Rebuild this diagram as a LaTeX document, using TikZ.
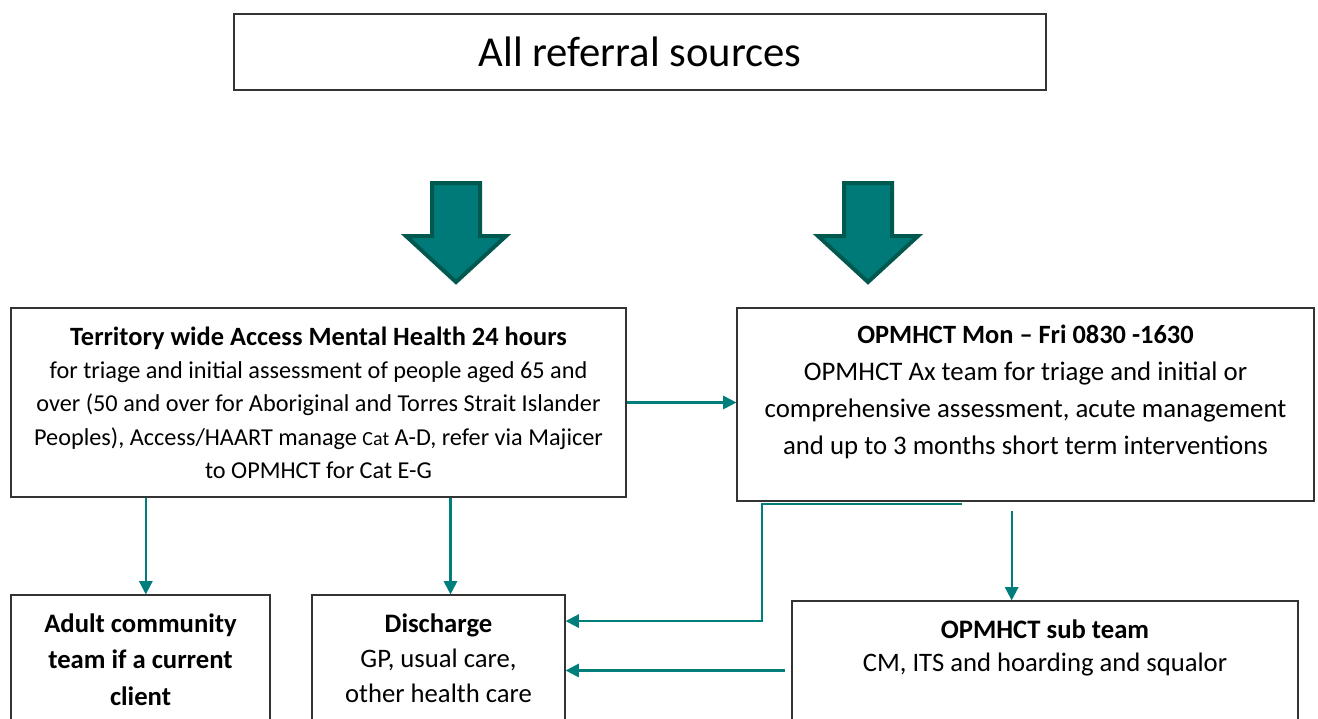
\documentclass[tikz,border=0pt]{standalone}
\usepackage{fontspec}
\setmainfont{Carlito}
\usepackage{xcolor}
\usepackage{tikz}
\usetikzlibrary{positioning,fit,arrows.meta}
\definecolor{flowteal}{HTML}{007E7C}
\definecolor{arrowfill}{HTML}{007A78}
\definecolor{arrowedge}{HTML}{00584F}

\begin{document}
\begin{tikzpicture}[x=0.75pt,y=-0.75pt,
  box/.style={draw=black!80, line width=0.9pt, inner sep=0pt},
  conn/.style={draw=flowteal, line width=1.6pt, -{Triangle[length=10pt,width=10pt]}},
  bigarrow/.style={fill=arrowfill, draw=arrowedge, line width=3pt, line join=miter},
  txt/.style={align=center, inner sep=0pt}]
\clip (0,0) rectangle (1318,718);
\fill[white] (0,0) rectangle (1318,718);
\node[box, fit={(234,14) (1046,90)}] (src) {};
\node[txt, font=\fontsize{32}{36}\selectfont] (srctxt) at (src.center) {All referral sources};
\draw[bigarrow] (432,183) -- (480,183) -- (480,236) -- (506,236) -- (456,282) -- (406,236) -- (432,236) -- cycle;
\draw[bigarrow] (844,183) -- (892,183) -- (892,236) -- (918,236) -- (868,282) -- (818,236) -- (844,236) -- cycle;
\node[box, fit={(11,308) (626,497)}] (acc) {};
\node[txt, font=\fontsize{18.2}{25}\selectfont] (acctxt) at (acc.center) {\textbf{\fontsize{19.8}{25}\selectfont Territory wide Access Mental Health 24 hours}\\
for triage and initial assessment of people aged 65 and\\
over (50 and over for Aboriginal and Torres Strait Islander\\
Peoples), Access/HAART manage {\fontsize{15}{25}\selectfont Cat} A-D, refer via Majicer\\
to OPMHCT for Cat E-G};
\node[box, fit={(737,308) (1314,501)}] (opm) {};
\node[txt, font=\fontsize{20.1}{27.75}\selectfont, anchor=north] (opmtxt) at ([yshift=-13pt]opm.north) {\textbf{\fontsize{19.8}{27.75}\selectfont OPMHCT Mon -- Fri 0830 -1630}\\
OPMHCT Ax team for triage and initial or\\
comprehensive assessment, acute management\\
and up to 3 months short term interventions};
\node[box, fit={(11,595) (270,740)}] (adult) {};
\node[txt, font=\bfseries\fontsize{20}{27.4}\selectfont, anchor=north] (adulttxt) at ([yshift=-14pt]adult.north) {Adult community\\team if a current\\client};
\node[box, fit={(312,595) (565,740)}] (dis) {};
\node[txt, font=\fontsize{20}{26.25}\selectfont, anchor=north] (distxt) at ([yshift=-14pt]dis.north) {\textbf{Discharge}\\GP, usual care,\\other health care};
\node[box, fit={(792,601) (1298,740)}] (sub) {};
\node[txt, font=\fontsize{20}{25}\selectfont, anchor=north] (subtxt) at ([yshift=-14pt]sub.north) {\textbf{OPMHCT sub team}\\CM, ITS and hoarding and squalor};
\draw[conn] (acc.east) -- (acc.east -| opm.west);
\draw[conn] ([xshift=4pt]acc.south -| adult.north) -- ([xshift=4pt]adult.north);
\draw[conn] ([xshift=9pt]acc.south -| dis.north) -- ([xshift=9pt]dis.north);
\draw[conn] ([shift={(169pt,-1.5pt)}]opm.south west) -- ++(-200,0) |- ([yshift=-20pt]dis.north east);
\draw[conn] ([xshift=-25pt,yshift=-7pt]opm.south -| sub.north) -- ([xshift=-25pt]sub.north);
\draw[conn] ([xshift=-5pt]sub.west) -- (sub.west -| dis.east);
\end{tikzpicture}
\end{document}
